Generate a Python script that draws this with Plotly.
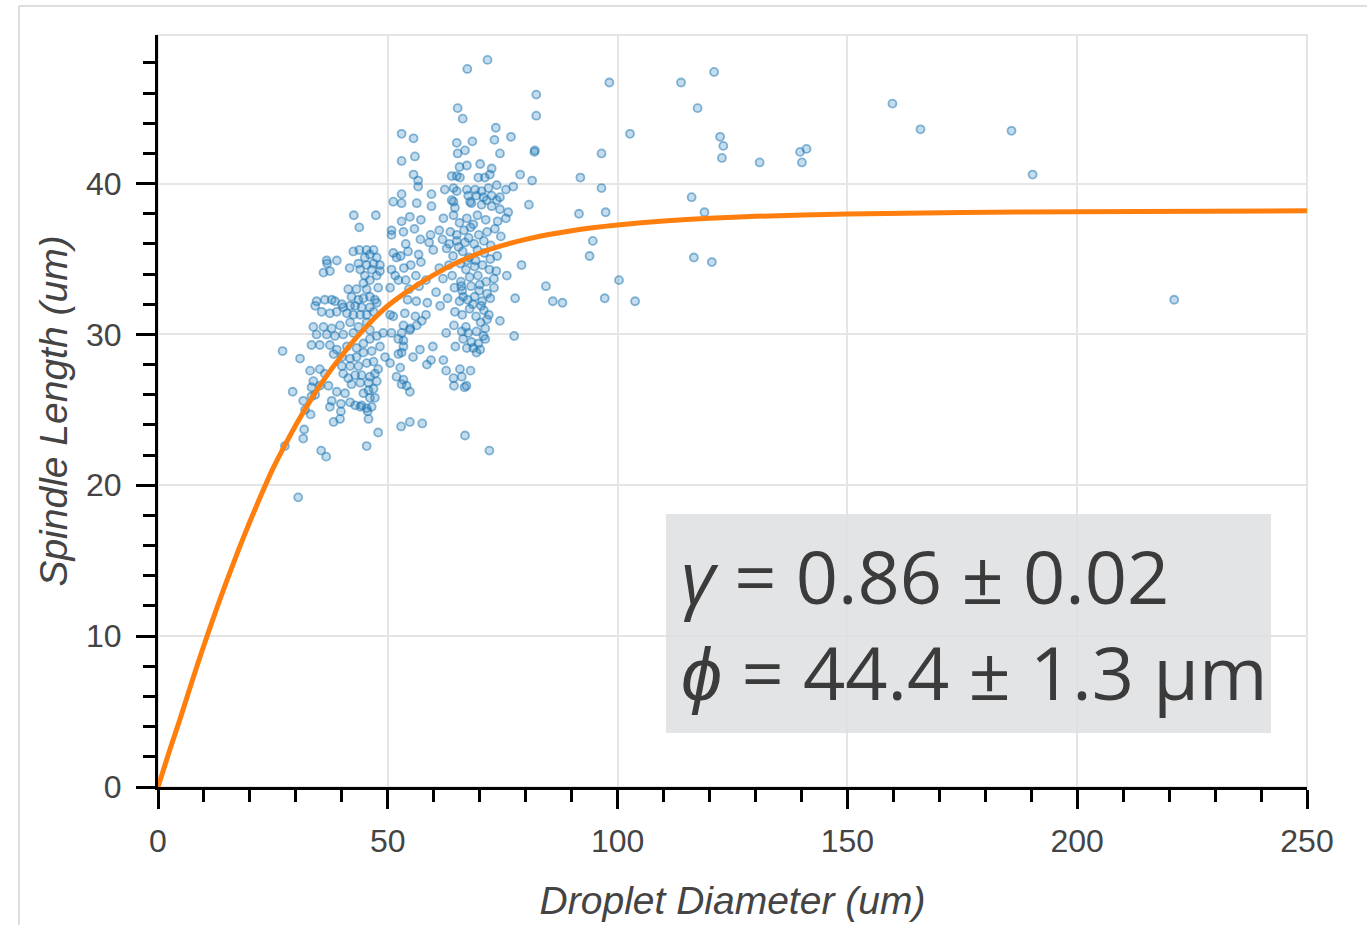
import plotly.graph_objects as go

# ---- measured droplets: diameter (um) and spindle length (um) ----
# large droplets / scattered outliers
outlier_d = [98.2, 113.8, 121.0, 117.4, 82.3, 82.3, 102.7, 122.3, 123.0, 122.7,
             130.9, 139.7, 141.1, 140.1, 159.8, 165.9, 185.7, 190.3, 96.5, 81.9,
             82.0, 91.9, 81.4, 96.5, 80.7, 91.6, 97.4, 116.1, 118.9, 94.6,
             93.9, 116.6, 120.5, 100.3, 84.4, 85.9, 88.0, 97.2, 103.8, 221.1,
             30.5]
outlier_l = [46.7, 46.7, 47.4, 45.0, 45.9, 44.5, 43.3, 43.1, 42.5, 41.7,
             41.4, 42.1, 42.3, 41.4, 45.3, 43.6, 43.5, 40.6, 42.0, 42.1,
             42.2, 40.4, 40.2, 39.7, 38.6, 38.0, 38.1, 39.1, 38.1, 36.2,
             35.2, 35.1, 34.8, 33.6, 33.2, 32.2, 32.1, 32.4, 32.2, 32.3,
             19.2]

# small droplets, upper part of the left cluster
left_upper_d = [42.6, 47.4, 43.8, 50.8, 50.8, 51.2, 51.2, 51.9, 42.5, 43.8,
                45.4, 46.1, 46.9, 45.0, 43.6, 45.4, 46.9, 48.3, 47.6, 36.7,
                38.9, 36.8, 36.0, 37.4, 41.7, 44.0, 45.0, 46.1, 47.6, 46.5,
                48.3, 41.4, 43.2, 44.7, 47.9, 45.4, 50.8, 51.6, 52.3, 50.5,
                34.5, 34.2, 36.3, 37.8, 38.5, 40.0, 40.3, 42.1, 43.6, 44.7,
                46.1, 47.2, 47.6, 41.8, 42.9, 44.3, 46.1, 46.9, 45.4, 44.0,
                42.5, 41.1, 38.9, 37.4, 35.6, 50.5, 51.2]
left_upper_l = [37.9, 37.9, 37.1, 36.9, 36.6, 38.8, 35.4, 35.1, 35.5, 35.6,
                35.6, 35.3, 35.6, 35.1, 34.7, 34.6, 34.7, 34.6, 35.1, 34.9,
                34.9, 34.7, 34.1, 34.2, 34.4, 34.3, 33.9, 33.6, 33.9, 34.3,
                34.2, 33.0, 33.0, 33.4, 33.1, 33.0, 34.3, 33.9, 33.6, 33.1,
                32.2, 31.9, 32.3, 32.3, 32.2, 32.0, 31.8, 32.5, 32.3, 32.4,
                32.5, 32.3, 32.1, 31.9, 31.9, 31.8, 31.8, 31.5, 31.3, 31.3,
                31.3, 31.4, 31.5, 31.4, 31.5, 31.3, 31.2]

# small droplets, lower part of the left cluster
left_lower_d = [33.8, 36.0, 37.8, 39.6, 41.8, 43.6, 45.4, 46.1, 42.5, 40.3,
                38.5, 36.7, 34.5, 33.4, 35.2, 37.4, 38.9, 41.1, 43.2, 44.7,
                46.1, 47.6, 49.0, 48.3, 46.5, 44.7, 43.2, 41.8, 40.0, 38.2,
                27.1, 30.9, 33.1, 35.2, 36.3, 33.8, 33.4, 35.2, 37.1, 38.9,
                40.7, 42.1, 41.4, 40.3, 40.0, 41.8, 43.6, 45.4, 46.9, 47.9,
                47.2, 46.1, 44.3, 42.9, 44.0, 45.8, 47.6, 46.9, 45.8, 44.7,
                46.1, 47.2, 46.5, 45.4, 44.3, 42.9, 41.8, 49.4, 50.5, 52.3,
                53.4, 52.3, 50.8, 52.7, 51.9, 53.0, 29.3, 31.6, 32.0, 33.2,
                33.4, 34.2, 37.8, 37.4, 39.8, 39.8, 39.6, 38.2, 44.0, 45.6,
                45.8, 31.8, 31.6, 27.6, 35.5, 36.6, 45.4, 47.9, 52.9]
left_lower_l = [30.5, 30.5, 30.4, 30.6, 30.8, 30.5, 30.8, 30.3, 30.1, 30.0,
                29.9, 30.0, 30.0, 29.3, 29.3, 29.3, 29.0, 29.2, 29.1, 29.4,
                29.7, 29.9, 30.1, 29.2, 28.9, 28.8, 28.5, 28.4, 28.5, 28.7,
                28.9, 28.4, 27.6, 27.7, 27.4, 26.9, 26.5, 26.6, 26.6, 26.2,
                26.1, 26.7, 27.1, 27.4, 27.9, 27.9, 27.9, 28.1, 28.2, 27.7,
                27.4, 27.2, 27.3, 27.3, 26.8, 26.8, 26.9, 26.4, 26.3, 26.1,
                25.8, 25.8, 25.2, 25.1, 25.3, 25.3, 25.5, 28.5, 28.1, 28.7,
                29.2, 29.7, 30.1, 27.8, 27.2, 26.7, 26.2, 25.6, 25.0, 24.7,
                25.9, 26.0, 25.6, 25.2, 25.4, 24.9, 24.4, 24.2, 25.2, 24.9,
                24.4, 23.7, 23.1, 22.6, 22.3, 21.9, 22.6, 23.5, 23.9]

# medium droplets, top of the right column
right_top_d = [71.7, 67.3, 65.2, 66.3, 53.0, 55.6, 73.5, 73.2, 76.8, 65.0,
               68.4, 66.8, 65.2, 74.4, 53.0, 55.9, 67.2, 65.6, 70.1, 72.6,
               78.8, 55.6, 56.6, 56.6, 63.9, 65.0, 65.7, 69.7, 71.1, 72.2,
               73.7, 77.3, 75.7, 62.4, 64.3, 65.0, 67.2, 69.0, 70.4, 71.9,
               53.0, 53.0, 59.5, 56.3, 59.5, 63.9, 64.3, 67.5, 67.9, 68.2,
               69.3, 70.8, 71.5, 72.6, 73.7, 72.6, 74.4]
right_top_l = [48.2, 47.6, 45.0, 44.3, 43.3, 43.0, 43.7, 42.9, 43.1, 42.7,
               42.8, 42.2, 42.0, 42.0, 41.5, 41.8, 41.2, 41.1, 41.3, 41.0,
               40.6, 40.6, 40.2, 39.8, 40.5, 40.5, 40.4, 40.4, 40.4, 40.6,
               39.9, 39.8, 39.6, 39.6, 39.7, 39.5, 39.6, 39.6, 39.5, 39.7,
               39.3, 38.7, 39.3, 38.7, 38.5, 38.9, 38.8, 39.2, 38.8, 38.7,
               39.2, 39.1, 38.9, 39.2, 38.9, 38.5, 39.1]

# medium droplets, middle of the right column
right_mid_d = [70.4, 74.4, 76.2, 64.6,
               54.8, 53.0, 57.2, 62.1, 64.3, 65.6, 67.2, 69.5, 71.3, 73.9, 75.7,
               53.4, 55.8, 59.3, 61.2, 63.6, 65.0, 66.6, 68.0, 69.8, 71.6, 73.3, 74.6,
               53.9, 57.1, 59.0, 61.9, 63.4, 65.4, 67.6, 68.8, 70.9, 72.4,
               52.8, 54.4, 56.7, 59.9, 62.8, 64.2, 66.3, 67.7, 69.1, 71.0, 72.3, 73.8, 79.1,
               53.5, 55.0, 57.2, 61.2, 63.3, 65.8, 67.0, 68.9, 70.6, 72.1, 73.6,
               53.9, 56.1, 58.3, 62.0, 64.0, 65.9, 67.8, 69.6, 71.4, 73.1, 75.9,
               54.6, 56.8, 60.5, 64.5, 66.2, 68.1, 69.9, 71.6, 73.1, 77.7,
               54.3, 56.2, 58.6, 61.4, 63.0, 65.6, 67.4, 68.9, 70.5, 72.3, 74.4,
               53.7, 56.0, 58.3, 64.6, 66.2, 67.8, 69.2, 70.9, 72.0,
               53.4, 54.9, 64.4, 67.0, 70.2, 71.6,
               65.0, 66.0, 68.5, 69.5, 66.8, 70.0, 67.3, 68.6, 66.4, 70.3]
right_mid_l = [38.6, 38.3, 38.1, 38.4,
               37.8, 37.5, 37.6, 37.7, 37.9, 37.4, 37.7, 37.9, 37.6, 37.5, 37.7,
               36.8, 37.0, 36.6, 36.9, 36.8, 36.6, 36.9, 37.1, 36.6, 36.8, 37.0, 36.5,
               36.0, 36.3, 36.1, 36.3, 36.0, 35.8, 36.4, 36.0, 36.2, 35.9,
               35.2, 35.5, 35.3, 35.6, 35.7, 35.2, 35.5, 35.1, 34.9, 35.4, 35.0, 35.2, 34.6,
               34.4, 34.6, 34.8, 34.4, 34.6, 34.7, 34.3, 34.5, 34.6, 34.3, 34.2,
               33.6, 33.9, 33.6, 33.7, 33.9, 33.5, 33.8, 33.9, 33.5, 33.7, 33.9,
               33.0, 33.2, 32.8, 33.1, 32.9, 33.2, 32.9, 32.7, 33.1, 32.4,
               32.3, 32.2, 32.1, 31.9, 32.4, 32.2, 32.3, 32.5, 32.2, 32.4, 30.9,
               31.4, 31.2, 31.3, 31.5, 31.3, 31.7, 31.2, 31.6, 31.3,
               30.6, 30.4, 30.6, 30.5, 30.8, 31.0,
               36.2, 33.2, 32.0, 35.6, 36.1, 33.3, 34.9, 37.3, 32.5, 31.9]

# medium droplets, bottom of the right column
right_low_d = [54.8, 57.5, 66.8, 72.1, 77.5, 62.7, 64.7, 59.8, 57.0, 55.5,
               59.4, 58.5, 62.1, 62.7, 65.7, 68.0, 64.3, 66.1, 64.4, 66.7,
               67.1, 53.4, 54.1, 54.8, 53.0, 71.2, 66.1, 67.5, 69.3, 70.8,
               66.4, 68.2, 69.7, 68.6, 70.1, 71.2, 67.2, 69.3, 53.0, 53.4,
               54.8, 56.3, 57.4]
right_low_l = [24.2, 24.1, 23.3, 22.3, 29.9, 30.1, 29.2, 29.2, 29.0, 28.5,
               28.3, 28.0, 28.3, 27.6, 27.7, 27.6, 27.1, 27.2, 26.6, 26.5,
               26.6, 27.0, 26.6, 26.2, 28.8, 30.4, 30.2, 30.1, 30.2, 29.9,
               29.7, 29.5, 29.4, 29.1, 29.0, 29.7, 29.1, 28.8, 30.1, 29.6,
               30.3, 30.6, 30.9]

# fitted spindle-length curve
fit_d = [0, 2.5, 5, 7.5, 10, 12.5, 15, 17.5, 20, 22.5, 25, 27.5, 30, 32.5,
         35, 37.5, 40, 42.5, 45, 47.5, 50, 55, 60, 65, 70, 75, 80, 85, 90,
         95, 100, 110, 120, 130, 150, 175, 200, 250]
fit_l = [0, 2.4, 4.7, 7.1, 9.4, 11.6, 13.7, 15.7, 17.6, 19.4, 21.1, 22.6,
         24.0, 25.3, 26.5, 27.6, 28.6, 29.55, 30.4, 31.2, 31.9, 33.0, 33.95,
         34.75, 35.4, 35.9, 36.3, 36.62, 36.88, 37.09, 37.26, 37.52, 37.7,
         37.83, 37.98, 38.08, 38.14, 38.2]

fit_lines = ["<i>γ</i> = 0.86 ± 0.02", "<i>ϕ</i> = 44.4 ± 1.3 µm"]

diameter = (outlier_d + left_upper_d + left_lower_d + right_top_d
            + right_mid_d + right_low_d)
spindle = (outlier_l + left_upper_l + left_lower_l + right_top_l
           + right_mid_l + right_low_l)

BLUE_FILL = "rgba(31,119,180,0.26)"
BLUE_EDGE = "rgba(31,119,180,0.52)"
ORANGE = "#ff7f0e"
GRID = "#e5e5e5"
LABEL = "#444444"
TICK_FONT = dict(family="Liberation Sans, Arial, sans-serif", size=32, color=LABEL)
TITLE_FONT = dict(family="Liberation Sans, Arial, sans-serif", size=39,
                  color=LABEL, style="italic")
BOX_FONT = dict(family="Open Sans, sans-serif", size=74, color="#3b3b3b")

fig = go.Figure()
fig.add_trace(go.Scatter(
    x=diameter, y=spindle, mode="markers",
    marker=dict(size=8, color=BLUE_FILL, line=dict(color=BLUE_EDGE, width=1.8)),
    hoverinfo="x+y", showlegend=False,
))
fig.add_trace(go.Scatter(
    x=fit_d, y=fit_l, mode="lines",
    line=dict(color=ORANGE, width=5, shape="spline", smoothing=0.6),
    showlegend=False,
))

axis_common = dict(
    showline=True, linecolor="black", linewidth=3,
    ticks="outside", tickcolor="black", tickwidth=3,
    showgrid=True, gridcolor=GRID, gridwidth=2,
    zeroline=False, tickfont=TICK_FONT, automargin=False,
)

fig.update_xaxes(
    **axis_common, range=[0, 250], tick0=0, dtick=50, ticklen=19,
    ticklabelstandoff=5,
    minor=dict(dtick=10, ticks="outside", ticklen=12, tickwidth=2.5,
               tickcolor="black", showgrid=False),
    title=dict(text="Droplet Diameter (um)", font=TITLE_FONT, standoff=29),
)
fig.update_yaxes(
    **axis_common, range=[0, 49.85], tick0=0, dtick=10, ticklen=19,
    ticklabelstandoff=8,
    minor=dict(dtick=2, ticks="outside", ticklen=12, tickwidth=2.5,
               tickcolor="black", showgrid=False),
    title=dict(text="Spindle Length (um)", font=TITLE_FONT, standoff=7),
)

shapes = [
    # plot frame outline
    dict(type="rect", xref="paper", yref="paper", x0=0, x1=1, y0=0, y1=1,
         line=dict(color=GRID, width=2), layer="below"),
    # page border (left and top)
    dict(type="line", xref="paper", yref="paper", x0=-0.121, x1=-0.121,
         y0=-0.19, y1=1.0386, line=dict(color="#bdbdbd", width=1)),
    dict(type="line", xref="paper", yref="paper", x0=-0.121, x1=1.06,
         y0=1.0386, y1=1.0386, line=dict(color="#bdbdbd", width=1)),
    # background of the fit-parameter box
    dict(type="rect", xref="paper", yref="paper", x0=0.4421, x1=0.9687,
         y0=0.0718, y1=0.3630, fillcolor="rgba(222,223,226,0.85)",
         line=dict(width=0), layer="above"),
]

annotations = [
    dict(xref="paper", yref="paper", x=0.4535, y=0.2815, text=fit_lines[0],
         showarrow=False, xanchor="left", yanchor="middle", font=BOX_FONT),
    dict(xref="paper", yref="paper", x=0.4535, y=0.1535, text=fit_lines[1],
         showarrow=False, xanchor="left", yanchor="middle", font=BOX_FONT),
]

fig.update_layout(
    width=1367, height=925, autosize=False,
    margin=dict(l=158, r=60, t=35, b=138, pad=0),
    plot_bgcolor="white", paper_bgcolor="white",
    shapes=shapes, annotations=annotations,
    showlegend=False,
)

fig.write_html("out.html")
